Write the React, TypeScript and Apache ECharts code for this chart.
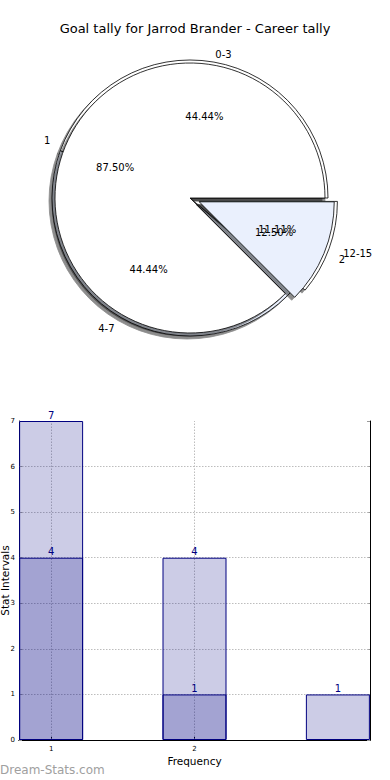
import React, { useEffect, useRef } from 'react';
import * as echarts from 'echarts';

const TITLE = 'Goal tally for Jarrod Brander - Career tally';
const rangeNames = ['0-3', '4-7', '12-15'];
const rangeValues = [4, 4, 1];
const rangeExploded = [false, false, true];
const tallyNames = ['1', '2'];
const tallyValues = [7, 1];
const tallyExploded = [false, true];

const intervalX = [1, 2, 3];
const intervalCounts = [7, 4, 1];
const frequencyX = [1, 2];
const frequencyCounts = [4, 1];
const yTicks = [0, 1, 2, 3, 4, 5, 6, 7];
const xTicks = [1, 2];

const FONT = 'DejaVu Sans';
const PIE_COLORS = ['#ffffff', '#eaf0fd'];
const CX = 190;
const CY = 198;
const R_A = 138;
const R_B = 135;
// label distance beyond the rim (mimics the original's slightly squashed pie)
const RANGE_LABEL_GAP = [8, 13, 15];
const TALLY_LABEL_GAP = [16, 16];

const pieBase = {
  type: 'pie',
  center: [CX, CY],
  startAngle: 0,
  clockwise: false,
  selectedMode: 'multiple',
  selectedOffset: 10,
  avoidLabelOverlap: false,
  labelLayout: { hideOverlap: false },
  emphasis: { disabled: true },
};

function visiblePie(names: string[], values: number[], exploded: boolean[], r: number) {
  const style = {
    borderColor: '#000',
    borderWidth: 0.8,
    shadowColor: 'rgba(0,0,0,0.45)',
    shadowBlur: 1,
    shadowOffsetX: -3,
    shadowOffsetY: 3,
  };
  return {
    ...pieBase,
    radius: r,
    z: 2,
    label: { show: false },
    labelLine: { show: false },
    itemStyle: style,
    select: { itemStyle: style },
    data: names.map((n, i) => ({
      name: n,
      value: values[i],
      selected: exploded[i],
      itemStyle: { color: PIE_COLORS[i % 2] },
      select: { itemStyle: { color: PIE_COLORS[i % 2] } },
    })),
  };
}

function namePie(names: string[], values: number[], exploded: boolean[], r: number, gaps: number[]) {
  return {
    ...pieBase,
    radius: r,
    z: 5,
    silent: true,
    itemStyle: { color: 'rgba(0,0,0,0)', borderWidth: 0 },
    label: {
      show: true,
      position: 'outside',
      formatter: '{b}',
      fontSize: 10,
      color: '#000',
      fontFamily: FONT,
      distanceToLabelLine: 0,
    },
    labelLine: { show: false, length: r * 0.12, length2: 0 },
    data: names.map((n, i) => ({
      name: n,
      value: values[i],
      selected: exploded[i],
      labelLine: { show: false, length: gaps[i], length2: 0 },
    })),
  };
}

function pctPie(names: string[], values: number[], exploded: boolean[], r: number) {
  const total = values.reduce((a, b) => a + b, 0);
  return {
    ...pieBase,
    radius: (0.6 * r - 3) * 2,
    z: 6,
    silent: true,
    itemStyle: { color: 'rgba(0,0,0,0)', borderWidth: 0 },
    label: {
      show: true,
      position: 'inside',
      formatter: (p: any) => ((p.value / total) * 100).toFixed(2) + '%',
      fontSize: 10,
      color: '#000',
      fontFamily: FONT,
    },
    labelLine: { show: false },
    data: names.map((n, i) => ({ name: n, value: values[i], selected: exploded[i] })),
  };
}

const gridDots = { color: '#bdbdbd', type: [1.5, 1.5] as number[], width: 1 };

export default function App() {
  const ref = useRef<HTMLDivElement>(null);
  useEffect(() => {
    if (!ref.current) return;
    const chart = echarts.init(ref.current, undefined, { renderer: 'svg' });
    const option: any = {
      animation: false,
      backgroundColor: '#ffffff',
      textStyle: { fontFamily: FONT },
      title: {
        text: TITLE,
        left: 'center',
        top: 17,
        textStyle: { fontSize: 13, fontWeight: 'normal', color: '#000', fontFamily: FONT },
      },
      grid: { left: 19, right: 20, top: 421, bottom: 40, containLabel: false, outerBoundsMode: 'none' },
      xAxis: [
        {
          type: 'value',
          min: 0.776,
          max: 3.224,
          position: 'bottom',
          axisLine: { show: true, lineStyle: { color: '#000', width: 1 } },
          axisTick: { show: true, customValues: xTicks, inside: true, length: 4, lineStyle: { color: '#000' } },
          axisLabel: { customValues: xTicks, fontSize: 7, color: '#000', margin: 5, fontFamily: FONT },
          splitLine: { show: false },
          name: 'Frequency',
          nameLocation: 'middle',
          nameGap: 15,
          nameMoveOverlap: false,
          nameTextStyle: { fontSize: 10.5, color: '#000', fontFamily: FONT },
        },
        {
          type: 'value',
          min: 0.776,
          max: 3.224,
          position: 'top',
          axisLine: { show: true, lineStyle: { color: '#000', width: 1 } },
          axisTick: { show: false },
          axisLabel: { show: false },
          splitLine: { show: false },
        },
      ],
      yAxis: [
        {
          type: 'value',
          min: 0,
          max: 7,
          interval: 1,
          position: 'left',
          axisLine: { show: true, lineStyle: { color: '#000', width: 1 } },
          axisTick: { show: true, inside: true, length: 3, lineStyle: { color: '#999' } },
          axisLabel: { fontSize: 7, color: '#000', margin: 4, fontFamily: FONT },
          splitLine: { show: false },
          name: 'Stat Intervals',
          nameLocation: 'middle',
          nameGap: 9,
          nameMoveOverlap: false,
          nameTextStyle: { fontSize: 10.5, color: '#000', fontFamily: FONT },
        },
        {
          type: 'value',
          min: 0,
          max: 7,
          interval: 1,
          position: 'right',
          axisLine: { show: true, lineStyle: { color: '#000', width: 1 } },
          axisTick: { show: true, inside: true, length: 3, lineStyle: { color: '#999' } },
          axisLabel: { show: false },
          splitLine: { show: false },
        },
      ],
      series: [
        visiblePie(rangeNames, rangeValues, rangeExploded, R_A),
        visiblePie(tallyNames, tallyValues, tallyExploded, R_B),
        namePie(rangeNames, rangeValues, rangeExploded, R_A, RANGE_LABEL_GAP),
        namePie(tallyNames, tallyValues, tallyExploded, R_B, TALLY_LABEL_GAP),
        pctPie(rangeNames, rangeValues, rangeExploded, R_A),
        pctPie(tallyNames, tallyValues, tallyExploded, R_B),
        {
          type: 'bar',
          name: 'Stat Intervals',
          xAxisIndex: 0,
          yAxisIndex: 0,
          data: intervalX.map((x, i) => [x, intervalCounts[i]]),
          barWidth: 64,
          barGap: '-100%',
          itemStyle: { color: 'rgba(0,0,128,0.2)', borderColor: '#000080', borderWidth: 1 },
          label: { show: true, position: 'top', distance: 1, color: '#000080', fontSize: 10, fontFamily: FONT },
          labelLayout: { hideOverlap: false },
          emphasis: { disabled: true },
        },
        {
          type: 'bar',
          name: 'Frequency',
          xAxisIndex: 0,
          yAxisIndex: 0,
          data: frequencyX.map((x, i) => [x, frequencyCounts[i]]),
          barWidth: 64,
          barGap: '-100%',
          itemStyle: { color: 'rgba(0,0,128,0.2)', borderColor: '#000080', borderWidth: 1 },
          label: { show: true, position: 'top', distance: 1, color: '#000080', fontSize: 10, fontFamily: FONT },
          labelLayout: { hideOverlap: false },
          emphasis: { disabled: true },
          markLine: {
            silent: true,
            symbol: ['none', 'none'],
            label: { show: false },
            lineStyle: gridDots,
            z: 1,
            data: [
              ...yTicks.filter((v) => v > 0 && v < 7).map((v) => ({ yAxis: v })),
              ...xTicks.map((v) => ({ xAxis: v })),
            ],
          },
        },
      ],
      graphic: [
        {
          type: 'text',
          left: 0,
          top: 764,
          style: { text: 'Dream-Stats.com', fill: '#a0a0a0', fontSize: 12, fontFamily: FONT },
        },
      ],
    };
    chart.setOption(option);
    return () => chart.dispose();
  }, []);
  return (
    <div
      ref={ref}
      style={{ position: 'fixed', left: 0, top: 0, width: 390, height: 780, background: '#fff' }}
    />
  );
}
